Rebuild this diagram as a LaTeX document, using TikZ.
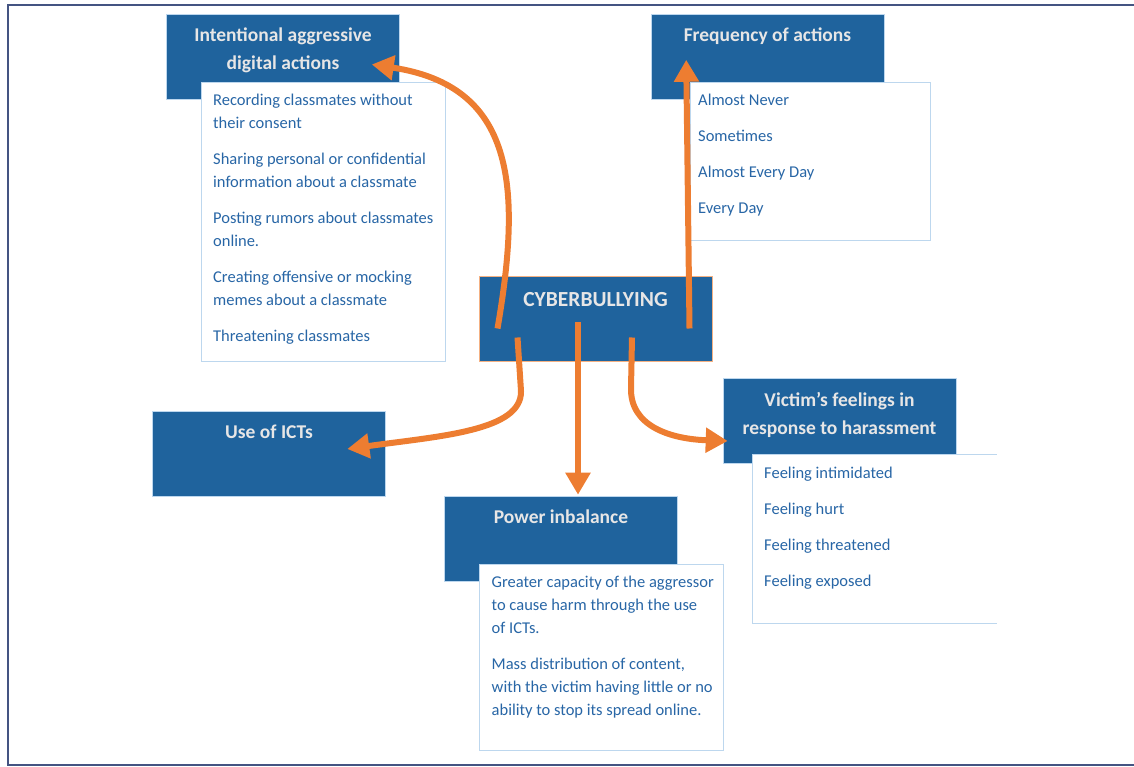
\documentclass[tikz,border=0pt]{standalone}
\usepackage{fontspec}
\setmainfont{Carlito}
\usepackage{tikz}
\usetikzlibrary{calc}
\usetikzlibrary{arrows.meta}
\definecolor{boxblue}{RGB}{31,99,157}
\definecolor{itemblue}{RGB}{40,102,166}
\definecolor{edgeblue}{RGB}{189,215,238}
\definecolor{headgray}{RGB}{231,230,230}
\definecolor{linkorange}{RGB}{237,125,49}
\definecolor{cyberedge}{RGB}{244,177,131}
\definecolor{framegray}{RGB}{68,84,130}
\newcommand{\headbox}[4]{\node[headbox] (#1) at (#2,#3) {}; \node[headtext] (#1t) at ([yshift=-13.5pt]#1.north) {#4};}
\newcommand{\listbox}[7]{\node[listbox, minimum width=#4pt, minimum height=#5pt] (#1) at (#2,#3) {}; \node[listtext] (#1t) at ([xshift=#6pt,yshift=-12pt]#1.north west) {#7};}

\begin{document}
\begin{tikzpicture}[x=1pt, y=1pt,
    headbox/.style={rectangle, fill=boxblue, draw=edgeblue, line width=0.6pt, minimum width=233pt, minimum height=85pt, inner sep=0pt},
    headtext/.style={anchor=north, inner sep=0pt, align=center, text=headgray, font=\fontsize{19.5}{28}\selectfont\bfseries},
    listbox/.style={rectangle, fill=white, draw=edgeblue, line width=1pt, anchor=north west, inner sep=0pt},
    listtext/.style={anchor=north west, inner sep=0pt, align=left, text=itemblue, font=\fontsize{16.5}{23}\selectfont},
    link/.style={draw=linkorange, line width=6pt, -{Triangle[length=22pt,width=24pt]}}]
        \useasboundingbox (0,0) rectangle (1134,766);
        % frame
        \draw[framegray, line width=2pt] (1134,761) -- (8,761) -- (8,1) -- (1134,1);
        % blocks
        \headbox{intent}{283}{709.5}{Intentional aggressive\\digital actions}
        \headbox{freq}{767.5}{709.5}{Frequency of actions}
        \headbox{ict}{269}{312}{Use of ICTs}
        \headbox{power}{561}{227.5}{Power inbalance}
        \headbox{victim}{839.5}{345}{Victim’s feelings in\\response to harassment}
        \listbox{intentlist}{201}{684}{244}{279}{12}{Recording classmates without\\their consent\\[13pt]Sharing personal or confidential\\information about a classmate\\[13pt]Posting rumors about classmates\\online.\\[13pt]Creating offensive or mocking\\memes about a classmate\\[13pt]Threatening classmates}
        \listbox{freqlist}{690}{684}{240}{158}{8}{Almost Never\\[13pt]Sometimes\\[13pt]Almost Every Day\\[13pt]Every Day}
        \listbox{powerlist}{479}{202}{244}{186}{12.5}{Greater capacity of the aggressor\\to cause harm through the use\\of ICTs.\\[13pt]Mass distribution of content,\\with the victim having little or no\\ability to stop its spread online.}
        \listbox{victimlist}{752}{311.5}{245}{168}{12}{Feeling intimidated\\[13pt]Feeling hurt\\[13pt]Feeling threatened\\[13pt]Feeling exposed}
        \draw[white, line width=1.5pt] (victimlist.north east) -- (victimlist.south east);
        % centre
        \node[headbox, draw=cyberedge, line width=1pt] (cyber) at (595.5,447) {};
        \node[headtext, font=\fontsize{21.5}{26}\selectfont\bfseries] (cybert) at ([yshift=-16pt]cyber.north) {CYBERBULLYING};
        % arrows
        \draw[link] ($(cyber.south west)+(19,33.5)$) .. controls (522,580) and (515,680) .. ($(intent.east)+(-28,-8)$);
        \draw[link] ($(cyber.south west)+(211,33.5)$) -- ($(freq.south west)+(35.5,39.5)$);
        \draw[link] ($(cyber.south west)+(39,24.5)$) -- (521,375) .. controls (522,335) and (440,330) .. ($(ict.east)+(-38.5,5)$);
        \draw[link] ($(cyber.south)+(-17.5,39.5)$) -- ($(power.north)+(17,1)$);
        \draw[link] ($(cyber.south)+(36.5,24.5)$) -- (631,378) .. controls (630,340) and (670,327) .. ($(victim.west)+(5,-20)$);
    \end{tikzpicture}
\end{document}
